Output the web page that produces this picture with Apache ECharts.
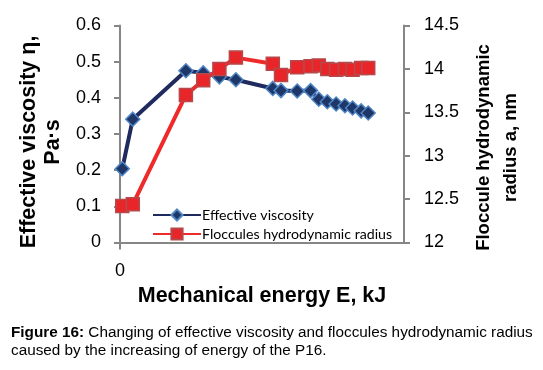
<!DOCTYPE html>
<html>
<head>
<meta charset="utf-8">
<script src="https://cdn.jsdelivr.net/npm/echarts@6/dist/echarts.min.js"></script>
<style>html,body{margin:0;padding:0;background:#fff}#c{width:543px;height:370px}</style>
</head>
<body>
<div id="c"></div>
<script>
// Data
var energy = [0.8, 4.5, 23.2, 29.3, 35.0, 40.8, 53.8, 56.7, 62.4, 67.1, 70.0, 73.0, 76.1, 79.2, 81.9, 84.9, 87.4];
var viscosity = [0.204, 0.341, 0.475, 0.469, 0.458, 0.45, 0.426, 0.42, 0.419, 0.42, 0.396, 0.389, 0.383, 0.378, 0.372, 0.364, 0.358];
var radius = [12.42, 12.44, 13.70, 13.87, 14.00, 14.13, 14.06, 13.93, 14.02, 14.03, 14.04, 14.00, 13.99, 14.00, 13.99, 14.01, 14.01];
var seriesNames = ['Effective viscosity', 'Floccules hydrodynamic radius'];
var xTicks = [0];

function pairs(xs, ys) { return xs.map(function (x, i) { return [x, ys[i]]; }); }

var chart = echarts.init(document.getElementById('c'), null, {renderer: 'canvas'});
var axisGray = '#868686';
chart.setOption({
  animation: false,
  grid: {left: 120, right: 139, top: 25.5, bottom: 127.5, containLabel: false},
  legend: {
    orient: 'vertical', left: 147, top: 203, itemWidth: 48, itemHeight: 14, itemGap: 5,
    textStyle: {fontFamily: 'Lato', fontSize: 14.2, lineHeight: 14, color: '#000', padding: [0, 0, 0, -4]},
    data: seriesNames
  },
  xAxis: {
    type: 'value', min: 0, max: 100,
    name: 'Mechanical energy E, kJ', nameLocation: 'middle', nameGap: 43,
    nameTextStyle: {fontFamily: 'Liberation Sans', fontWeight: 'bold', fontSize: 21.5, color: '#000'},
    axisLine: {show: true, lineStyle: {color: axisGray, width: 2}},
    axisTick: {show: true, length: 7, lineStyle: {color: axisGray, width: 2}, customValues: xTicks},
    axisLabel: {show: true, customValues: xTicks, margin: 20, fontFamily: 'Liberation Sans', fontSize: 18, color: '#000'},
    splitLine: {show: false}
  },
  yAxis: [{
    type: 'value', min: 0, max: 0.6, interval: 0.1, position: 'left',
    name: 'Effective viscosity η,\nPa·s', nameLocation: 'middle', nameGap: 48, nameRotate: 90,
    nameTextStyle: {fontFamily: 'Liberation Sans', fontWeight: 'bold', fontSize: 21.5, color: '#000', lineHeight: 24, align: 'center', padding: [0, 16, 0, 0]},
    axisLine: {show: true, lineStyle: {color: axisGray, width: 2}},
    axisTick: {show: true, length: 6, lineStyle: {color: axisGray, width: 2}},
    axisLabel: {margin: 19, fontFamily: 'Liberation Sans', fontSize: 18, color: '#000'},
    splitLine: {show: false}
  }, {
    type: 'value', min: 12, max: 14.5, interval: 0.5, position: 'right',
    name: 'Floccule hydrodynamic\nradius a, nm', nameLocation: 'middle', nameGap: 51, nameRotate: 90,
    nameTextStyle: {fontFamily: 'Liberation Sans', fontWeight: 'bold', fontSize: 18.5, color: '#000', lineHeight: 27, align: 'center', padding: [0, 27, 0, 0]},
    axisLine: {show: true, lineStyle: {color: axisGray, width: 2}},
    axisTick: {show: true, length: 6, lineStyle: {color: axisGray, width: 2}},
    axisLabel: {margin: 20, fontFamily: 'Liberation Sans', fontSize: 18, color: '#000'},
    splitLine: {show: false}
  }],
  series: [{
    name: seriesNames[0], type: 'line', yAxisIndex: 0,
    data: pairs(energy, viscosity),
    symbol: 'diamond', symbolSize: 14,
    lineStyle: {color: '#1F2A5E', width: 4},
    itemStyle: {color: '#1F3768', borderColor: '#4F86C6', borderWidth: 1.5},
    z: 2
  }, {
    name: seriesNames[1], type: 'line', yAxisIndex: 1,
    data: pairs(energy, radius),
    symbol: 'rect', symbolSize: 13,
    lineStyle: {color: '#EE2A2A', width: 4},
    itemStyle: {color: '#E8262A', borderColor: '#B5494B', borderWidth: 1.5},
    z: 3
  }],
  graphic: [{
    type: 'text', left: 11, top: 324,
    style: {
      text: '{b|Figure 16:} Changing of effective viscosity and floccules hydrodynamic radius\ncaused by the increasing of energy of the P16.',
      fontFamily: 'Liberation Sans', fontSize: 15.3, lineHeight: 18, fill: '#000',
      rich: {b: {fontFamily: 'Liberation Sans', fontWeight: 'bold', fontSize: 15.3, lineHeight: 18, fill: '#000'}}
    }
  }]
});
</script>
</body>
</html>
